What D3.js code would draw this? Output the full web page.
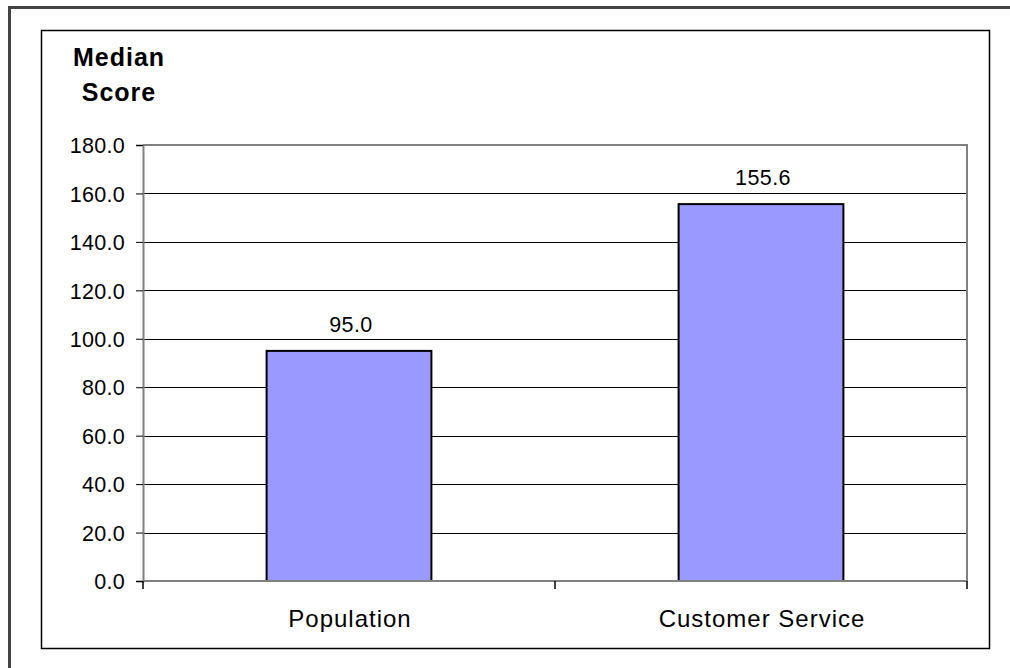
<!DOCTYPE html>
<html>

<head>
    <meta charset="utf-8">
    <style>
        body {
            margin: 0;
            background: white;
        }

        svg {
            display: block;
            font-family: 'Liberation Sans', Arial, sans-serif;
        }

        .tick text {
            font-size: 21.5px;
            letter-spacing: 0.3px;
            fill: black;
        }
    </style>
</head>

<body>
    <svg width="1010" height="668"></svg>
</body>

<script src="https://d3js.org/d3.v7.min.js"></script>

<script>
    // chart data
    let categories = ["Population", "Customer Service"];
    let medianScores = [95.0, 155.6];
    let yTicks = [0, 20, 40, 60, 80, 100, 120, 140, 160, 180];
    let yTitle = ["Median", "Score"];

    let svg = d3.select("svg");

    // plot area
    let plotLeft = 143, plotRight = 967, plotTop = 145, plotBottom = 581;

    // outer frame (top + left only)
    svg.append("path")
        .attr("d", "M9.5,1000 L9.5,7.5 L1010,7.5")
        .style("fill", "none")
        .style("stroke", "#444")
        .style("stroke-width", 3);

    // chart box
    svg.append("rect")
        .attr("x", 41.5)
        .attr("y", 30.5)
        .attr("width", 948)
        .attr("height", 618)
        .style("fill", "white")
        .style("stroke", "black")
        .style("stroke-width", 1.5);

    let y = d3.scaleLinear()
        .domain([0, 180])
        .range([plotBottom, plotTop]);

    let x = d3.scaleBand()
        .domain(categories)
        .range([plotLeft, plotRight])
        .paddingInner(0.6)
        .paddingOuter(0.3);

    // gridlines
    svg.append("g")
        .selectAll("line")
        .data(yTicks.filter(d => d > 0 && d < 180))
        .join("line")
        .attr("x1", plotLeft)
        .attr("x2", plotRight)
        .attr("y1", d => Math.round(y(d)) + 0.5)
        .attr("y2", d => Math.round(y(d)) + 0.5)
        .style("stroke", "black")
        .style("stroke-width", 1);

    // plot area border top + right (gray)
    svg.append("path")
        .attr("d", `M${plotLeft},${plotTop} L${plotRight},${plotTop} L${plotRight},${plotBottom}`)
        .style("fill", "none")
        .style("stroke", "#808080")
        .style("stroke-width", 2);

    // y axis
    let yAxis = svg.append("g")
        .attr("transform", `translate(${plotLeft},0)`)
        .call(d3.axisLeft(y)
            .tickValues(yTicks)
            .tickFormat(d3.format(".1f"))
            .tickSize(7)
            .tickPadding(11));

    yAxis.select(".domain").style("stroke", "#808080").style("stroke-width", 2);
    yAxis.selectAll(".tick line").style("stroke", "black");
    yAxis.selectAll(".tick text").attr("dy", "0.36em");

    // bars
    svg.append("g")
        .selectAll("rect")
        .data(medianScores)
        .join("rect")
        .attr("x", (d, i) => x(categories[i]))
        .attr("y", d => y(d))
        .attr("width", x.bandwidth())
        .attr("height", d => y(0) - y(d))
        .style("fill", "#9999FF")
        .style("stroke", "black")
        .style("stroke-width", 2);

    // value labels
    svg.append("g")
        .selectAll("text")
        .data(medianScores)
        .join("text")
        .attr("x", (d, i) => x(categories[i]) + x.bandwidth() / 2 + 2)
        .attr("y", d => y(d) - 19)
        .attr("text-anchor", "middle")
        .style("font-size", "21.5px")
        .style("letter-spacing", "0.4px")
        .text(d => d3.format(".1f")(d));

    // x axis line
    svg.append("line")
        .attr("x1", plotLeft)
        .attr("x2", plotRight)
        .attr("y1", plotBottom)
        .attr("y2", plotBottom)
        .style("stroke", "#808080")
        .style("stroke-width", 2);

    // category divider ticks
    let gap = (x.step() - x.bandwidth()) / 2;
    let dividers = categories.map(c => x(c) - gap).concat([plotRight]);
    svg.append("g")
        .selectAll("line")
        .data(dividers)
        .join("line")
        .attr("x1", d => d)
        .attr("x2", d => d)
        .attr("y1", plotBottom)
        .attr("y2", plotBottom + 8)
        .style("stroke", "black")
        .style("stroke-width", 1.5);

    // category labels
    svg.append("g")
        .selectAll("text")
        .data(categories)
        .join("text")
        .attr("x", d => x(d) + x.bandwidth() / 2 + 1)
        .attr("y", 627)
        .attr("text-anchor", "middle")
        .style("font-size", "24px")
        .style("letter-spacing", "1px")
        .text(d => d);

    // y title
    svg.append("text")
        .attr("x", 119)
        .attr("y", 66)
        .attr("text-anchor", "middle")
        .style("font-size", "25px")
        .style("font-weight", "bold")
        .style("letter-spacing", "1px")
        .selectAll("tspan")
        .data(yTitle)
        .join("tspan")
        .attr("x", 119)
        .attr("dy", (d, i) => i == 0 ? 0 : 35)
        .text(d => d);
</script>

</html>
